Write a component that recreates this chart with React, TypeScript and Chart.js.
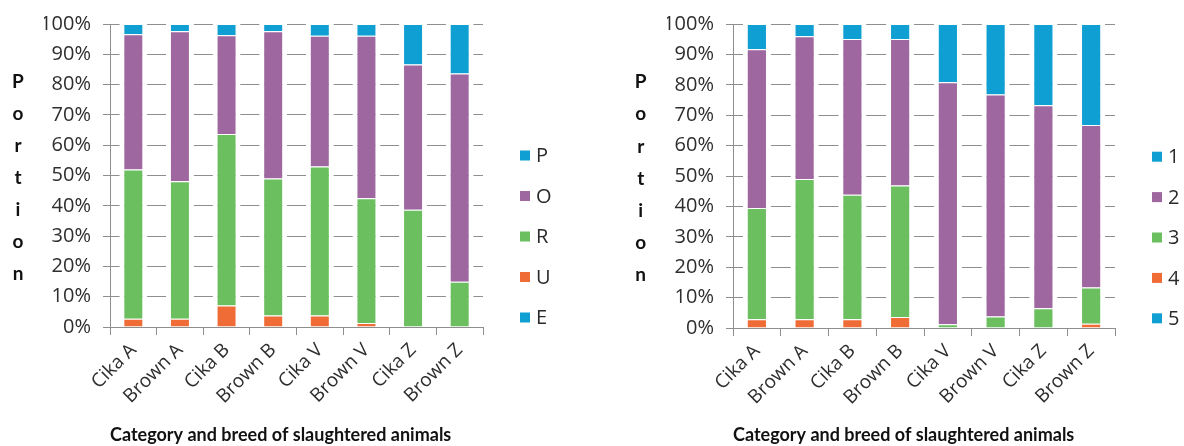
import React, { useEffect, useRef } from 'react';
import { Chart, registerables } from 'chart.js';

Chart.register(...registerables);

// ---------- data ----------
const categories = ['Cika A', 'Brown A', 'Cika B', 'Brown B', 'Cika V', 'Brown V', 'Cika Z', 'Brown Z'];

// Left chart: conformation classes (EUROP), stacked bottom -> top: E, U, R, O, P
const gradeE = [0, 0, 0, 0, 0, 0, 0, 0];
const gradeU = [2.7, 2.7, 7.1, 3.8, 3.8, 1.3, 0, 0];
const gradeR = [49.3, 45.4, 56.6, 45.2, 49.2, 41.2, 38.7, 14.9];
const gradeO = [44.6, 49.5, 32.6, 48.6, 43.1, 53.6, 47.9, 68.8];
const gradeP = [3.4, 2.4, 3.7, 2.4, 3.9, 3.9, 13.4, 16.3];

// Right chart: fatness classes, stacked bottom -> top: 5, 4, 3, 2, 1
const fat5 = [0, 0, 0, 0, 0, 0, 0, 0];
const fat4 = [2.9, 2.9, 2.9, 3.6, 0, 0, 0, 1.4];
const fat3 = [36.6, 46.1, 40.9, 43.3, 1.2, 3.8, 6.5, 11.9];
const fat2 = [52.2, 47.0, 51.3, 48.2, 79.6, 73.0, 66.8, 53.5];
const fat1 = [8.3, 4.0, 4.9, 4.9, 19.2, 23.2, 26.7, 33.2];

const yTicks = [0, 10, 20, 30, 40, 50, 60, 70, 80, 90, 100];
const xTitle = 'Category and breed of slaughtered animals';
const yTitleLetters = ['P', 'o', 'r', 't', 'i', 'o', 'n'];

// ---------- styles ----------
const BLUE = '#0f9fd3';
const PURPLE = '#9f67a0';
const GREEN = '#6bbf5f';
const ORANGE = '#ef6c36';
const GRID = '#8e8e8e';
const TICK_TXT = '#2e2e2e';

const decoPlugin = {
  id: 'deco',
  afterDraw(chart: any, _args: any, opts: any) {
    const ctx = chart.ctx;
    const area = chart.chartArea;
    ctx.save();
    // vertical stacked axis title
    ctx.font = 'bold 19px Lato';
    ctx.fillStyle = '#111';
    ctx.textAlign = 'center';
    ctx.textBaseline = 'middle';
    yTitleLetters.forEach((ch, i) => {
      ctx.fillText(ch, opts.letterX, opts.letterY0 + i * opts.letterDy);
    });
    // legend (reversed dataset order)
    const items = chart.data.datasets.slice().reverse();
    items.forEach((ds: any, i: number) => {
      const y = opts.legendY0 + i * opts.legendDy;
      const x = area.right + opts.legendGap;
      ctx.fillStyle = ds.backgroundColor;
      ctx.fillRect(x, y - 5, 10, 10);
      ctx.fillStyle = '#2a2a2a';
      ctx.textAlign = 'left';
      ctx.font = '20px "Open Sans"';
      ctx.fillText(ds.label, x + 16, y + 1);
    });
    ctx.restore();
  },
};

type Series = { label: string; data: number[]; color: string };

function makeConfig(series: Series[], p: any): any {
  return {
    type: 'bar',
    data: {
      labels: categories,
      datasets: series.map((s) => ({
        label: s.label,
        data: s.data,
        backgroundColor: s.color,
        borderColor: '#ffffff',
        borderWidth: { left: 5, right: 5, top: 1, bottom: 0 },
        borderSkipped: false,
        barPercentage: p.barPct,
        categoryPercentage: 1,
      })),
    },
    options: {
      responsive: false,
      animation: false,
      devicePixelRatio: 1,
      layout: { padding: { left: p.padLeft, top: p.padTop, right: p.padRight, bottom: 0 } },
      plugins: {
        legend: { display: false },
        tooltip: { enabled: false },
        deco: {
          letterX: p.letterX,
          letterY0: p.letterY0,
          letterDy: p.letterDy,
          legendGap: p.legendGap,
          legendY0: p.legendY0,
          legendDy: p.legendDy,
        },
      },
      scales: {
        x: {
          stacked: true,
          afterFit: (s: any) => {
            s.height = p.xHeight;
          },
          grid: { drawOnChartArea: false, drawTicks: true, tickLength: 8, color: GRID, offset: true },
          border: { color: GRID, width: 1 },
          ticks: {
            autoSkip: false,
            minRotation: 45,
            maxRotation: 45,
            padding: 4,
            color: TICK_TXT,
            font: { family: 'Open Sans', size: 19 },
          },
          title: {
            display: true,
            text: xTitle,
            align: 'start',
            color: '#111',
            font: { family: 'Lato', size: 18, weight: 'bold' },
            padding: { top: 0, bottom: 0 },
          },
        },
        y: {
          stacked: true,
          min: 0,
          max: 100,
          afterFit: (s: any) => {
            s.width = 66;
          },
          afterBuildTicks: (s: any) => {
            s.ticks = yTicks.map((v) => ({ value: v }));
          },
          grid: { color: GRID, tickLength: 7, lineWidth: 1 },
          border: { color: GRID, width: 1 },
          ticks: {
            padding: 12,
            color: TICK_TXT,
            font: { family: 'Open Sans', size: 20 },
            callback: (v: any) => v + '%',
          },
        },
      },
    },
    plugins: [decoPlugin],
  };
}

function ChartBox({ series, params, left }: { series: Series[]; params: any; left: number }) {
  const ref = useRef<HTMLCanvasElement | null>(null);
  useEffect(() => {
    if (!ref.current) return;
    const chart = new Chart(ref.current, makeConfig(series, params));
    return () => chart.destroy();
  }, []);
  return (
    <div style={{ position: 'absolute', left, top: 0, width: 592, height: 446 }}>
      <canvas ref={ref} width={592} height={446} style={{ width: 592, height: 446, display: 'block' }} />
    </div>
  );
}

const leftSeries: Series[] = [
  { label: 'E', data: gradeE, color: BLUE },
  { label: 'U', data: gradeU, color: ORANGE },
  { label: 'R', data: gradeR, color: GREEN },
  { label: 'O', data: gradeO, color: PURPLE },
  { label: 'P', data: gradeP, color: BLUE },
];

const rightSeries: Series[] = [
  { label: '5', data: fat5, color: BLUE },
  { label: '4', data: fat4, color: ORANGE },
  { label: '3', data: fat3, color: GREEN },
  { label: '2', data: fat2, color: PURPLE },
  { label: '1', data: fat1, color: BLUE },
];

const leftParams = {
  padLeft: 44,
  padTop: 21,
  padRight: 109,
  xHeight: 119,
  barPct: 0.6,
  letterX: 18,
  letterY0: 82,
  letterDy: 31.9,
  legendGap: 37,
  legendY0: 155.5,
  legendDy: 40.5,
};

const rightParams = {
  padLeft: 75,
  padTop: 22,
  padRight: 69,
  xHeight: 118,
  barPct: 0.59,
  letterX: 48.7,
  letterY0: 82,
  letterDy: 32.2,
  legendGap: 37,
  legendY0: 156.7,
  legendDy: 40.4,
};

export default function App() {
  return (
    <div style={{ position: 'fixed', left: 0, top: 0, width: 1184, height: 446, background: '#fff', overflow: 'hidden' }}>
      <ChartBox series={leftSeries} params={leftParams} left={0} />
      <ChartBox series={rightSeries} params={rightParams} left={592} />
    </div>
  );
}
